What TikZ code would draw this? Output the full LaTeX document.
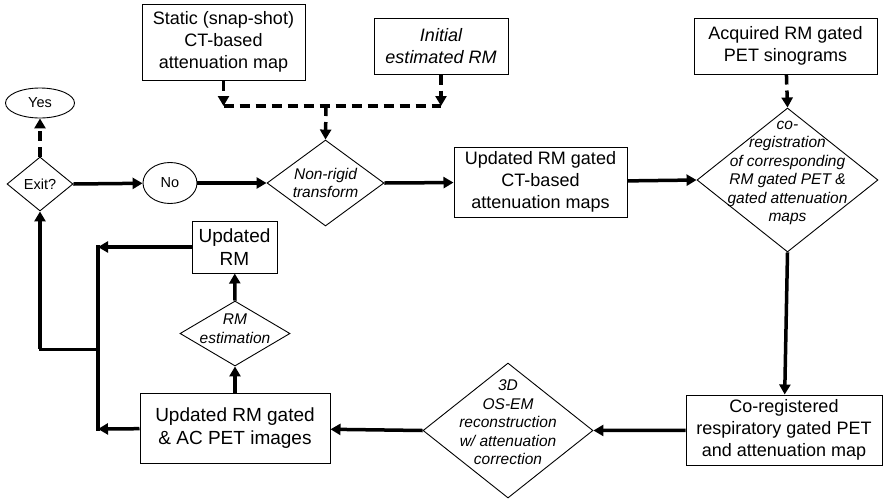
\documentclass[tikz,border=0pt]{standalone}
\usepackage{fontspec}
\setmainfont{Liberation Sans}
\usetikzlibrary{shapes.geometric,arrows.meta}

\tikzset{
  box/.style={draw,line width=1pt,inner sep=0pt,align=center,font=\fontsize{18}{22}\selectfont},
  decision/.style={diamond,draw,line width=0.9pt,inner sep=0pt},
  dectext/.style={align=center,font=\itshape\fontsize{15.5}{18.5}\selectfont},
  answer/.style={ellipse,draw,line width=0.9pt,inner sep=0pt,font=\fontsize{14.5}{17}\selectfont},
  flow/.style={line width=3.5pt,-{Triangle[length=10pt,width=11pt]}},
  dashflow/.style={flow,dash pattern=on 10pt off 6pt},
}

\begin{document}
\begin{tikzpicture}[x=1pt,y=-1pt]

      \useasboundingbox (0,0) rectangle (883,499);

      \begin{scope}[every node/.style={box}]
        \node[minimum width=163pt,minimum height=76pt] (static)  at (223.5,42)  {Static (snap-shot)\\CT-based\\attenuation map};
        \node[minimum width=134pt,minimum height=56pt,font=\itshape\fontsize{18}{22}\selectfont] (initial) at (441,46) {Initial\\estimated RM};
        \node[minimum width=183pt,minimum height=56pt] (acquired) at (785.5,46) {Acquired RM gated\\PET sinograms};
        \node[minimum width=173pt,minimum height=70pt] (ctmaps)  at (540.5,182) {Updated RM gated\\CT-based\\attenuation maps};
        \node[minimum width=196pt,minimum height=70pt] (coregbox) at (784,430) {Co-registered\\respiratory gated PET\\and attenuation map};
        \node[minimum width=190pt,minimum height=70pt,font=\fontsize{19}{23}\selectfont] (acpet) at (235,428) {Updated RM gated\\\& AC PET images};
        \node[minimum width=85pt,minimum height=52pt,font=\fontsize{19}{23}\selectfont] (updrm) at (234.5,247) {Updated\\RM};
      \end{scope}

      \begin{scope}[every node/.style={decision}]
        \node[minimum width=66pt,minimum height=54pt,
              label={[font=\fontsize{14.5}{17}\selectfont]center:Exit?}] (exit) at (40,184) {};
        \node[minimum width=117pt,minimum height=86pt,
              label={[dectext]center:{Non-rigid\\transform}}] (nonrigid) at (325.5,183) {};
        \node[minimum width=181pt,minimum height=144pt,
              label={[dectext,yshift=7pt]center:{co-\\registration\\of corresponding\\RM gated PET \&\\gated attenuation\\maps}}] (coreg) at (787.5,180) {};
        \node[minimum width=170pt,minimum height=135pt,
              label={[dectext,yshift=8pt]center:{3D\\OS-EM\\reconstruction\\w/ attenuation\\correction}}] (osem) at (508,430.5) {};
        \node[minimum width=110pt,minimum height=65pt,
              label={[dectext,yshift=5pt]center:{RM\\estimation}}] (rmest) at (235,333.5) {};
      \end{scope}

      \begin{scope}[every node/.style={answer}]
        \node[minimum width=69pt,minimum height=30pt] (yes) at (40,103) {Yes};
        \node[minimum width=54pt,minimum height=41pt] (no)  at (170,183) {No};
      \end{scope}

      \coordinate (join) at (326,106);
      \coordinate (busT) at (98,247);
      \coordinate (busM) at (98,349);
      \coordinate (busB) at (98,429);
      \coordinate (loop) at (40,349);

      \begin{scope}[every edge/.style={draw,dashflow}]
        \path (static) edge (static |- join);
        \path (initial) edge (initial |- join);
        \path (join) edge (nonrigid.north);
        \path (acquired) edge (coreg.north);
        \path (exit.north) edge (yes);
      \end{scope}
      \draw[line width=3.5pt,dash pattern=on 10pt off 6pt] (static |- join) -- (initial |- join);

      \begin{scope}[every edge/.style={draw,flow}]
        \path (exit.east) edge (no);
        \path (no) edge (nonrigid.west);
        \path (nonrigid.east) edge (ctmaps);
        \path (ctmaps) edge (coreg.west);
        \path (coreg.south) edge (coregbox);
        \path (coregbox) edge (osem.east);
        \path (osem.west) edge (acpet);
        \path (acpet) edge (rmest.south);
        \path (rmest.north) edge (updrm);
        \path (updrm) edge (busT);
        \path (acpet) edge (busB);
        \path (loop) edge (exit.south);
      \end{scope}
      \draw[line width=3.5pt,line cap=rect] (busT) -- (busB);
      \draw[line width=3pt,line cap=rect] (busM) -- (loop);

    \end{tikzpicture}
\end{document}
